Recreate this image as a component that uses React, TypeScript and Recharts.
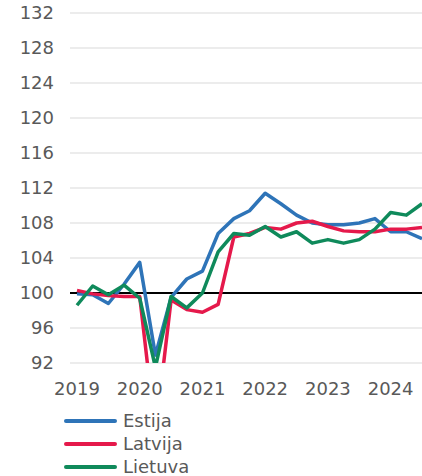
import { CartesianGrid, Line, LineChart, ReferenceLine, XAxis, YAxis } from "recharts";

const quarters = [
  "2019 Q1", "2019 Q2", "2019 Q3", "2019 Q4",
  "2020 Q1", "2020 Q2", "2020 Q3", "2020 Q4",
  "2021 Q1", "2021 Q2", "2021 Q3", "2021 Q4",
  "2022 Q1", "2022 Q2", "2022 Q3", "2022 Q4",
  "2023 Q1", "2023 Q2", "2023 Q3", "2023 Q4",
  "2024 Q1", "2024 Q2", "2024 Q3",
];

const estija = [
  99.9, 99.8, 98.8, 101.0, 103.5, 92.9, 99.5, 101.6, 102.5, 106.8, 108.5, 109.4,
  111.4, 110.2, 108.9, 108.0, 107.8, 107.8, 108.0, 108.5, 107.0, 107.0, 106.2,
];
const latvija = [
  100.3, 99.9, 99.7, 99.6, 99.6, 84.0, 99.2, 98.1, 97.8, 98.7, 106.4, 106.8,
  107.5, 107.3, 108.0, 108.2, 107.6, 107.1, 107.0, 107.0, 107.3, 107.3, 107.5,
];
const lietuva = [
  98.6, 100.8, 99.8, 100.9, 99.4, 91.5, 99.6, 98.3, 100.0, 104.7, 106.8, 106.6,
  107.6, 106.4, 107.0, 105.7, 106.1, 105.7, 106.1, 107.3, 109.2, 108.9, 110.2,
];

const yTicks = [92, 96, 100, 104, 108, 112, 116, 120, 124, 128, 132];
const xTicks = ["2019 Q1", "2020 Q1", "2021 Q1", "2022 Q1", "2023 Q1", "2024 Q1"];

const series = [
  { key: "estija", name: "Estija", color: "#2e74b8" },
  { key: "latvija", name: "Latvija", color: "#e5194b" },
  { key: "lietuva", name: "Lietuva", color: "#0f8a5b" },
];

const data = quarters.map((q, i) => ({
  q,
  estija: estija[i],
  latvija: latvija[i],
  lietuva: lietuva[i],
}));

const font = "'DejaVu Sans', Verdana, sans-serif";
const tick = { fill: "#595959", fontSize: 18, fontFamily: font };

export default function App() {
  return (
    <div style={{ position: "absolute", left: 0, top: 0, width: 422, height: 476, overflow: "hidden", background: "#fff" }}>
      <LineChart width={422} height={403} data={data} margin={{ top: 13, right: 0, left: 0, bottom: 0 }}>
        <CartesianGrid stroke="#d9d9d9" vertical={false} />
        <XAxis
          dataKey="q"
          ticks={xTicks}
          tickFormatter={(v: string) => v.slice(0, 4)}
          tick={tick}
          tickLine={false}
          tickSize={0}
          tickMargin={19}
          axisLine={false}
          height={40}
          padding={{ left: 7, right: 0 }}
        />
        <YAxis
          domain={[92, 132]}
          ticks={yTicks}
          allowDataOverflow
          tick={tick}
          tickLine={false}
          tickSize={0}
          tickMargin={16}
          axisLine={false}
          width={70}
        />
        <ReferenceLine y={100} stroke="#000" strokeWidth={2} />
        {series.map((s) => (
          <Line
            key={s.key}
            type="linear"
            dataKey={s.key}
            name={s.name}
            stroke={s.color}
            strokeWidth={3.5}
            strokeLinejoin="round"
            dot={false}
            isAnimationActive={false}
          />
        ))}
      </LineChart>
      <div style={{ position: "absolute", left: 64, top: 409, fontFamily: font, fontSize: 18, color: "#595959" }}>
        {series.map((s) => (
          <div key={s.key} style={{ display: "flex", alignItems: "center", height: 23 }}>
            <span style={{ display: "inline-block", width: 53, height: 4, borderRadius: 2, background: s.color, marginRight: 6 }} />
            <span>{s.name}</span>
          </div>
        ))}
      </div>
    </div>
  );
}
